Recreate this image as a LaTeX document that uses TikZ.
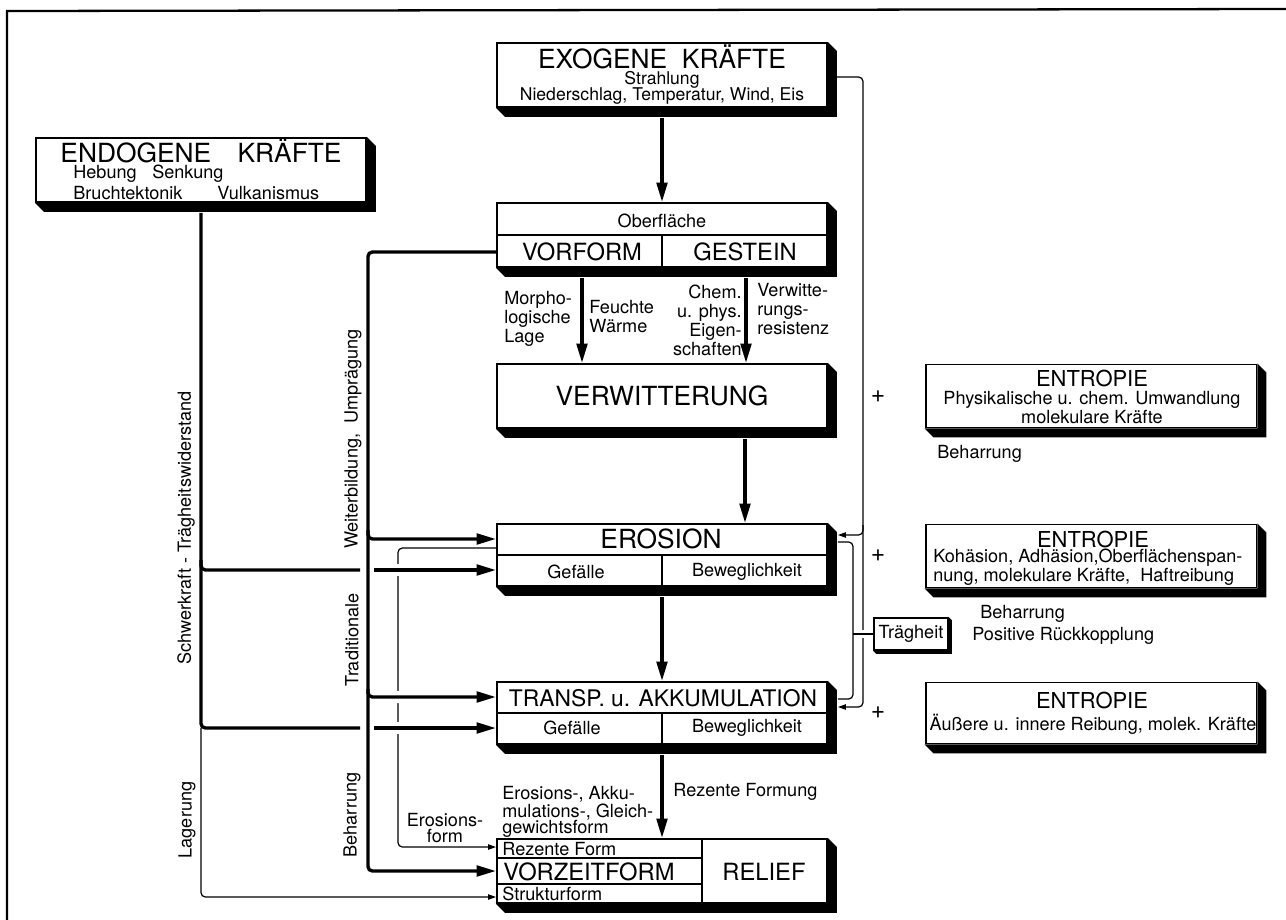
\documentclass[tikz,border=0pt]{standalone}
\usepackage{fontspec}
\setmainfont{TeX Gyre Heros}
\usetikzlibrary{arrows.meta}

\newcommand\bigtype{\fontsize{15}{17}\selectfont}
\newcommand\midtype{\fontsize{13.5}{15}\selectfont}
\newcommand\enttype{\fontsize{12.5}{14}\selectfont}
\newcommand\smalltype{\fontsize{10.3}{10.8}\selectfont}
\newcommand\tighttype{\fontsize{10.3}{9.2}\selectfont}
\newcommand\plustype{\fontsize{14}{14}\selectfont}
% black extrusion below and right of a box
\newcommand\solid[2]{\fill (#1.north east) -- ++(#2,#2) -- ([shift={(#2,#2)}]#1.south east)
  -- ([shift={(#2,#2)}]#1.south west) -- (#1.south west) -- (#1.south east) -- cycle;}

\begin{document}
\begin{tikzpicture}[x=0.02cm, y=-0.02cm,
    panel/.style={draw, line width=1.1pt, fill=white, minimum width=6.6cm, minimum height=1.28cm, inner sep=0pt},
    lbl/.style={font=\smalltype, inner sep=0pt},
    head/.style={font=\bigtype, inner sep=0pt},
    heavy/.style={line width=1.9pt, rounded corners=2.5pt},
    fine/.style={line width=0.7pt, rounded corners=2.5pt},
    arr/.style={-{Triangle[length=11pt,width=6pt]}},
    sarr/.style={-{Triangle[length=4.5pt,width=3pt]}},
    halo/.style={preaction={draw=white, line width=7pt, -, shorten >=14pt}}]
  \useasboundingbox (0,0) rectangle (1286,920);
  \draw[line width=1.3pt] (7,920) -- (7,11) -- (1286,9);

  % boxes
  \node[panel] (exo) at (662,75) {};
  \solid{exo}{9}
  \node[head] (exoT) at (662,57) {EXOGENE\ \ KRÄFTE};
  \node[lbl, font=\fontsize{10}{10}\selectfont] (exoA) at (662,80) {Strahlung};
  \node[lbl, font=\fontsize{10}{10}\selectfont] (exoB) at (662,96) {Niederschlag, Temperatur, Wind, Eis};

  \node[panel] (endo) at (201,170) {};
  \solid{endo}{9}
  \node[head] (endoT) at (201,151) {ENDOGENE\quad KRÄFTE};
  \node[lbl, anchor=west] (endoA) at (73,174) {Hebung\hspace{6pt} Senkung};
  \node[lbl, anchor=west] (endoB) at (73,193) {Bruchtektonik\hspace{17pt} Vulkanismus};

  \node[panel] (ober) at (662,235) {};
  \solid{ober}{9}
  \draw[line width=1.1pt] (ober.west) -- (ober.east) (ober.center) -- (ober.south);
  \node[lbl] (oberT) at (662,221) {Oberfläche};
  \node[font=\midtype] (vorf) at (582,252) {VORFORM};
  \node[font=\midtype] (gest) at (745,252) {GESTEIN};

  \node[panel, font=\bigtype] (verw) at (662,396) {VERWITTERUNG};
  \solid{verw}{9}

  \node[panel, minimum height=1.24cm] (ero) at (662,555) {};
  \solid{ero}{9}
  \draw[line width=1.1pt] (ero.west) -- (ero.east) (ero.center) -- (ero.south);
  \node[head] (eroT) at (661,539) {EROSION};
  \node[lbl] (eroA) at (576,572) {Gefälle};
  \node[lbl] (eroB) at (747,572) {Beweglichkeit};

  \node[panel, minimum height=1.24cm] (trans) at (662,713) {};
  \solid{trans}{9}
  \draw[line width=1.1pt] (trans.west) -- (trans.east) (trans.center) -- (trans.south);
  \node[font=\fontsize{13}{15}\selectfont, inner sep=0pt] (transT) at (663,698) {TRANSP. u. AKKUMULATION};
  \node[lbl] (transA) at (572,728) {Gefälle};
  \node[lbl] (transB) at (747,728) {Beweglichkeit};

  \node[panel] (relief) at (662,871) {};
  \solid{relief}{9}
  \draw[line width=1.1pt] ([shift={(206,0)}]relief.north west) -- ([shift={(206,0)}]relief.south west)
    ([shift={(0,-13)}]relief.west) -- ++(206,0)
    ([shift={(0,13)}]relief.west) -- ++(206,0);
  \node[lbl, anchor=west] (rezent) at (502,849) {Rezente Form};
  \node[font=\midtype, inner sep=0pt, anchor=west] (vorz) at (503,872) {VORZEITFORM};
  \node[lbl, anchor=west] (strukt) at (502,894) {Strukturform};
  \node[font=\midtype] (reliefT) at (764,872) {RELIEF};

  \node[panel, minimum width=6.62cm, minimum height=1.26cm] (entA) at (1091,396) {};
  \solid{entA}{9}
  \node[font=\enttype, inner sep=0pt] (entAt) at (1092,378) {ENTROPIE};
  \node[lbl, align=center, font=\tighttype] (entAb) at (1092,408) {Physikalische u. chem. Umwandlung\\molekulare Kräfte};

  \node[panel, minimum width=6.62cm, minimum height=1.26cm] (entB) at (1091,556) {};
  \solid{entB}{9}
  \node[font=\enttype, inner sep=0pt] (entBt) at (1093,539) {ENTROPIE};
  \node[lbl, align=left, anchor=west, font=\tighttype] (entBb) at (933,567) {Kohäsion, Adhäsion,Oberflächenspan-\\nung, molekulare Kräfte,\ \ Haftreibung};

  \node[panel, minimum width=6.62cm, minimum height=1.22cm] (entC) at (1091,713) {};
  \solid{entC}{9}
  \node[font=\enttype, inner sep=0pt] (entCt) at (1092,700) {ENTROPIE};
  \node[lbl] (entCb) at (1093,724) {Äußere u. innere Reibung, molek. Kräfte};

  \node[draw, fill=white, line width=0.9pt, minimum width=1.48cm, minimum height=0.64cm, inner sep=0pt, font=\smalltype] (trag) at (911,634) {Trägheit};
  \solid{trag}{3}

  % labels
  \node[lbl, rotate=90] (schw) at (186,528) {Schwerkraft - Trägheitswiderstand};
  \node[lbl, rotate=90] (lag) at (187,820) {Lagerung};
  \node[lbl, rotate=90] (weit) at (353,439) {Weiterbildung,\ \ Umprägung};
  \node[lbl, rotate=90] (trad) at (352,640) {Traditionale};
  \node[lbl, rotate=90] (beh) at (352,815) {Beharrung};
  \node[lbl, align=left, anchor=west] (morph) at (504,319) {Morpho-\\logische\\Lage};
  \node[lbl, align=left, anchor=west] (feu) at (589,317) {Feuchte\\Wärme};
  \node[lbl, align=right, anchor=east] (chem) at (742,320) {Chem.\\u. phys.\\Eigen-\\schaften};
  \node[lbl, align=left, anchor=west] (resist) at (757,309) {Verwitte-\\rungs-\\resistenz};
  \node[lbl, anchor=west] (rezf) at (673,792) {Rezente Formung};
  \node[lbl, align=left, anchor=west, font=\tighttype] (formen) at (502,812) {Erosions-, Akku-\\mulations-, Gleich-\\gewichtsform};
  \node[lbl, align=center, font=\tighttype] (erof) at (445,828) {Erosions-\\form};
  \node[lbl, anchor=west] (behA) at (937,454) {Beharrung};
  \node[lbl, anchor=west] (behB) at (980,614) {Beharrung};
  \node[lbl, anchor=west] (posr) at (972,636) {Positive Rückkopplung};
  \node[font=\plustype, inner sep=0pt] (plusA) at (878,397) {+};
  \node[font=\plustype, inner sep=0pt] (plusB) at (878,556) {+};
  \node[font=\plustype, inner sep=0pt] (plusC) at (878,713) {+};

  % bends and junctions
  \coordinate (vz) at (368,871);
  \coordinate (jv1) at (368,530);
  \coordinate (jv2) at (368,689);
  \coordinate (je1) at (201,560);
  \coordinate (je2) at (201,728);
  \coordinate (g1) at (360,570);
  \coordinate (g1r) at (374,570);
  \coordinate (g2) at (360,728);
  \coordinate (g2r) at (374,728);
  \coordinate (ef) at (398,847);
  \coordinate (fb) at (863,535);
  \coordinate (fb2) at (863,525);
  \coordinate (il) at (853,620);

  % thin connectors
  \draw[fine,sarr] ([shift={(0,-7)}]ero.west) -| (ef) -- ([shift={(0,-24)}]relief.west);
  \draw[fine,sarr] (je2) |- ([shift={(0,26)}]relief.west);
  \draw[fine,sarr] ([shift={(9,2)}]exo.east) -| (fb) -- ([shift={(10,-20)}]ero.east);
  \draw[fine,sarr] (fb2) |- ([shift={(10,-6)}]trans.east);
  \draw[fine] ([shift={(10,-13)}]ero.east) -| (il) |- ([shift={(10,-14)}]trans.east);
  \draw[fine, preaction={draw=white, line width=4pt, shorten >=3pt}] (trag.west) -- (il |- trag.west);

  % main flow
  \draw[heavy,arr] ([shift={(0,10)}]exo.south) -- (ober.north);
  \draw[heavy,arr] ([shift={(-80,10)}]ober.south) -- ([shift={(-80,0)}]verw.north);
  \draw[heavy,arr] ([shift={(84,10)}]ober.south) -- ([shift={(84,0)}]verw.north);
  \draw[heavy,arr] ([shift={(83,10)}]verw.south) -- ([shift={(83,0)}]ero.north);
  \draw[heavy,arr] ([shift={(0,10)}]ero.south) -- (trans.north);
  \draw[heavy,arr] ([shift={(0,10)}]trans.south) -- (relief.north);

  % endogene branches
  \draw[heavy] ([shift={(0,10)}]endo.south) |- (g2);
  \draw[heavy] (je1) |- (g1);
  \draw[heavy,arr,halo] (g1r) -- ([shift={(0,15)}]ero.west);
  \draw[heavy,arr,halo] (g2r) -- ([shift={(0,15)}]trans.west);

  % vorform line
  \draw[heavy,arr,halo] (jv1) |- ([shift={(0,-16)}]ero.west);
  \draw[heavy,arr,halo] (jv2) |- ([shift={(0,-16)}]trans.west);
  \draw[heavy,arr] ([shift={(0,17)}]ober.west) -| (vz) -- (relief.west);
\end{tikzpicture}
\end{document}
